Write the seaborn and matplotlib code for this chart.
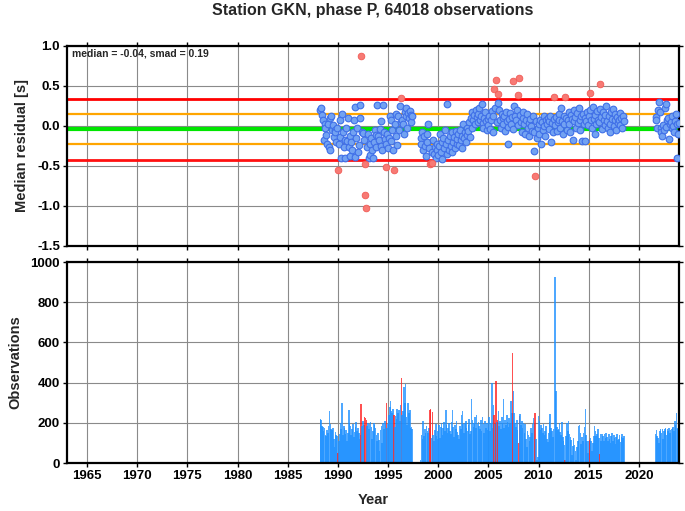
import numpy as np
import pandas as pd
import matplotlib
matplotlib.use("Agg")
import matplotlib.pyplot as plt
import seaborn as sns

station = "GKN"
phase = "P"
n_obs = 64018
median = -0.04
smad = 0.19

# monthly median residuals [s] and observation counts, three recording periods
start_1 = 1988.25
resid_1 = [0.20, 0.22, 0.14, 0.08, -0.17, 0.03, -0.03, -0.11, -0.22,
           0.03, -0.26, -0.30, 0.10, 0.12, -0.05, 0.01, -0.14, -0.05, -0.08, -0.20, -0.03,
           -0.55, -0.22, 0.07, -0.14, -0.40, 0.15, -0.08, -0.26, -0.18, -0.40, -0.02, -0.19,
           0.10, -0.26, -0.38, -0.12, -0.20, -0.30, -0.07, 0.07, -0.39, 0.24, -0.15, -0.03,
           -0.33, -0.24, 0.10, 0.26, 0.87, -0.07, -0.09, -0.18, -0.48, -0.86, -1.02, -0.26,
           -0.10, -0.40, -0.22, -0.36, -0.15, -0.30, -0.40, -0.20, -0.05, -0.11, -0.26, 0.26,
           -0.12, -0.17, -0.04, -0.25, 0.06, -0.30, 0.26, -0.08, -0.16, -0.22, -0.51, -0.10,
           -0.28, -0.15, 0.12, -0.19, 0.07, -0.05, -0.30, -0.55, 0.03, -0.13, 0.15, -0.24,
           0.12, -0.05, 0.25, 0.05, 0.35, 0.07, 0.02, -0.10, 0.18, 0.12, 0.22, -0.02,
           0.16, 0.10, 0.19, 0.05, 0.14, 0.13]
count_1 = [220, 215, 185, 180, 160, 175, 140, 135, 165,
           150, 185, 260, 195, 170, 165, 175, 120, 80, 155, 140, 135,
           50, 110, 145, 200, 170, 300, 140, 185, 175, 145, 165, 110,
           150, 265, 200, 185, 140, 170, 195, 130, 155, 180, 205, 160,
           175, 150, 120, 140, 295, 185, 210, 190, 230, 225, 215, 185,
           200, 170, 195, 205, 180, 120, 160, 200, 190, 175, 140, 110,
           150, 115, 60, 165, 185, 100, 200, 170, 210, 195, 300, 175,
           195, 240, 280, 310, 260, 250, 270, 240, 180, 235, 220, 270,
           250, 265, 210, 290, 425, 240, 260, 380, 300, 395, 230, 190,
           300, 250, 265, 175, 180, 170]

start_2 = 1998.25
resid_2 = [-0.15, -0.22, -0.08, -0.30, -0.12, -0.25, -0.38, -0.20, -0.10,
           0.03, -0.28, -0.47, -0.46, -0.33, -0.46, -0.18, -0.35, -0.26, -0.40, -0.22, -0.30,
           -0.36, -0.25, -0.10, -0.32, -0.20, -0.41, -0.15, -0.28, -0.05, -0.22, -0.35, 0.27,
           -0.18, -0.30, -0.12, -0.25, -0.08, -0.33, -0.20, -0.14, -0.27, -0.06, -0.22, -0.16,
           -0.10, -0.24, -0.05, -0.18, -0.28, -0.12, 0.02, -0.15, -0.08, -0.20, -0.02, -0.11,
           -0.06, 0.05, -0.14, 0.10, -0.03, 0.18, 0.08, 0.14, 0.02, 0.20, 0.11, 0.05,
           0.15, 0.22, 0.08, 0.12, 0.27, 0.04, -0.02, 0.10, 0.17, 0.06, -0.05, 0.09,
           0.01, 0.12, -0.04, 0.07, 0.19, 0.13, -0.08, 0.46, 0.22, 0.57, 0.05, 0.40,
           0.29, 0.20, 0.08, -0.02, 0.15, 0.10, 0.03, 0.12, -0.06, 0.18, 0.06, -0.01,
           -0.23, 0.09, 0.16, 0.02, 0.11, 0.56, -0.04, 0.25, 0.13, 0.07, 0.20, 0.01,
           0.39, 0.60, 0.14, 0.05, -0.07, 0.10, 0.18, 0.02, -0.10, 0.08, 0.15, -0.03,
           0.04, -0.12, 0.09, 0.00, -0.06, 0.12, -0.31, -0.08, -0.63, 0.06, -0.15, -0.02,
           0.03, -0.10, 0.08, -0.23, 0.05, -0.05, 0.12, 0.00, -0.12, 0.07, 0.02, 0.10,
           -0.04, 0.06, 0.13, -0.20, 0.04, -0.08, 0.09, 0.36, 0.01, 0.11, -0.06, 0.05,
           0.15, 0.08, -0.03, 0.22, 0.06, -0.10, 0.12, 0.03, 0.36, 0.10, -0.05, 0.07,
           0.18, 0.02, -0.08, 0.14, 0.09, -0.17, 0.06, 0.20, 0.11, -0.02, 0.16, 0.04,
           0.23, 0.08, -0.05, 0.12, -0.19, 0.15, 0.03, 0.10, -0.19, 0.06, 0.17, 0.01,
           0.12, 0.41, 0.20, 0.07, -0.03, 0.24, 0.09, -0.10, 0.14, 0.02, 0.19, 0.08,
           0.05, 0.52, 0.21, 0.11, -0.04, 0.18, 0.08, 0.14, 0.01, 0.25, 0.06, -0.02,
           0.13, 0.03, -0.08, 0.17, 0.09, 0.21, 0.00, 0.07, 0.15, -0.05, 0.11, 0.04,
           0.08, 0.16, 0.01, 0.10, -0.03, 0.12, 0.06]
count_2 = [15, 140, 120, 207, 133, 170, 150, 185, 160,
           150, 175, 265, 270, 125, 255, 140, 110, 165, 195, 135, 120,
           160, 190, 125, 180, 200, 140, 175, 205, 160, 265, 190, 150,
           175, 200, 160, 145, 205, 265, 180, 130, 190, 170, 210, 155,
           140, 120, 185, 170, 240, 260, 195, 150, 200, 210, 175, 160,
           190, 220, 145, 160, 320, 215, 180, 200, 230, 175, 240, 195,
           205, 185, 170, 215, 160, 230, 195, 150, 210, 175, 200, 165,
           180, 230, 160, 200, 400, 175, 290, 240, 195, 410, 205, 215,
           260, 185, 210, 170, 230, 200, 320, 175, 215, 190, 240, 205,
           180, 225, 195, 310, 250, 545, 360, 250, 200, 180, 215, 165,
           100, 232, 245, 190, 210, 175, 200, 150, 195, 120, 80, 160,
           140, 110, 130, 175, 150, 195, 225, 200, 250, 120, 15, 30,
           232, 210, 165, 190, 175, 150, 195, 140, 160, 185, 120, 105,
           150, 205, 245, 175, 160, 130, 170, 7, 925, 360, 180, 166,
           170, 200, 155, 140, 205, 130, 110, 90, 17, 135, 200, 160,
           208, 145, 130, 115, 40, 85, 125, 90, 60, 15, 80, 110,
           183, 190, 150, 95, 130, 110, 150, 180, 267, 140, 110, 50,
           108, 115, 125, 110, 60, 100, 133, 183, 158, 133, 142, 167,
           125, 45, 142, 108, 142, 133, 108, 142, 125, 150, 130, 110,
           145, 120, 100, 135, 150, 110, 140, 125, 95, 130, 145, 115,
           120, 140, 105, 130, 145, 125, 135]

start_3 = 2021.67
resid_3 = [0.11, 0.08, -0.03, 0.20, 0.30, 0.18, -0.03, -0.07, -0.13, 0.01, -0.05, 0.22,
           0.28, -0.01, 0.08, 0.10, -0.16, 0.03, 0.05, -0.02, 0.12, 0.00, -0.08, 0.06,
           0.15, -0.40, 0.02, -0.10, 0.04]
count_3 = [142, 163, 133, 125, 100, 158, 167, 150, 167, 120, 158, 170, 175, 140, 170,
           160, 175, 150, 165, 170, 175, 180, 160, 208, 190, 250, 175, 167, 160]


def make_frame(start, resid, count):
    years = start + np.arange(len(resid)) / 12
    return pd.DataFrame({"Year": years, "Residual": resid, "Count": count})


df = pd.concat([make_frame(start_1, resid_1, count_1),
                make_frame(start_2, resid_2, count_2),
                make_frame(start_3, resid_3, count_3)], ignore_index=True)

hi = median + 2 * smad
lo = median - 2 * smad
df["Outlier"] = (df["Residual"] > hi) | (df["Residual"] < lo)

sns.set_theme(style="ticks")
plt.rcParams["font.family"] = ["Liberation Sans", "DejaVu Sans"]
plt.rcParams["font.weight"] = "bold"
plt.rcParams["axes.unicode_minus"] = False

fig = plt.figure(figsize=(6.85, 5.11), dpi=100)
ax1 = fig.add_axes([67 / 685, 1 - 246 / 511, 612 / 685, 200 / 511])
ax2 = fig.add_axes([67 / 685, 1 - 463 / 511, 612 / 685, 201 / 511])

# residual panel
ax1.axhline(hi, color="#ff0000", lw=2.0, zorder=2)
ax1.axhline(lo, color="#ff1010", lw=2.0, zorder=2)
ax1.axhline(median + smad, color="#ffa500", lw=1.6, zorder=2)
ax1.axhline(median - smad, color="#ffa500", lw=1.6, zorder=2)
ax1.axhline(median, color="#00e600", lw=3.0, zorder=2)

good = df[~df["Outlier"]]
bad = df[df["Outlier"]]
sns.scatterplot(data=good, x="Year", y="Residual", color="#72a2f2", edgecolor="#3f6fe8",
                linewidth=0.8, s=23, ax=ax1, zorder=3)
sns.scatterplot(data=bad, x="Year", y="Residual", color="#f77a74", edgecolor="#f25a55",
                linewidth=0.6, s=23, ax=ax1, zorder=3)

ax1.text(0.008, 0.985, f"median = {median:.2f}, smad = {smad:.2f}", transform=ax1.transAxes,
         ha="left", va="top", fontsize=7.5, fontweight="bold")
ax1.set_ylim(-1.5, 1.0)
ax1.set_yticks([-1.5, -1.0, -0.5, 0.0, 0.5, 1.0])
ax1.set_yticklabels([f"{v:.1f}" for v in [-1.5, -1.0, -0.5, 0.0, 0.5, 1.0]])
ax1.set_ylabel("Median residual [s]", fontsize=10.5, fontweight="bold", labelpad=6)
ax1.set_xlabel("")
ax1.tick_params(labelbottom=False)

# observation count panel
bar_colors = np.where(df["Outlier"], "#ff2020", "#1e90ff")
ax2.bar(df["Year"], df["Count"], width=0.16, color=bar_colors, alpha=0.78,
        linewidth=0, zorder=2)
ax2.set_ylim(0, 1000)
ax2.set_yticks(range(0, 1001, 200))
ax2.set_ylabel("Observations", fontsize=10.5, fontweight="bold", labelpad=6)
ax2.set_xlabel("Year", fontsize=10.5, fontweight="bold", labelpad=8)

for ax in (ax1, ax2):
    ax.set_xlim(1963, 2024)
    ax.set_xticks(range(1965, 2021, 5))
    ax.grid(True, color="#8a8a8a", lw=0.8)
    ax.set_axisbelow(True)
    ax.tick_params(direction="out", length=3, width=1, top=True, right=True,
                   labelsize=9.5, pad=2, colors="black")
    for lab in ax.get_xticklabels() + ax.get_yticklabels():
        lab.set_fontweight("bold")
    for side in ax.spines.values():
        side.set_linewidth(1.6)
        side.set_color("black")

fig.text(373 / 685, 1 - 10 / 511,
         f"Station {station}, phase {phase}, {n_obs} observations",
         ha="center", va="center", fontsize=11.5, fontweight="bold")

fig.savefig("out.png", dpi=100)
